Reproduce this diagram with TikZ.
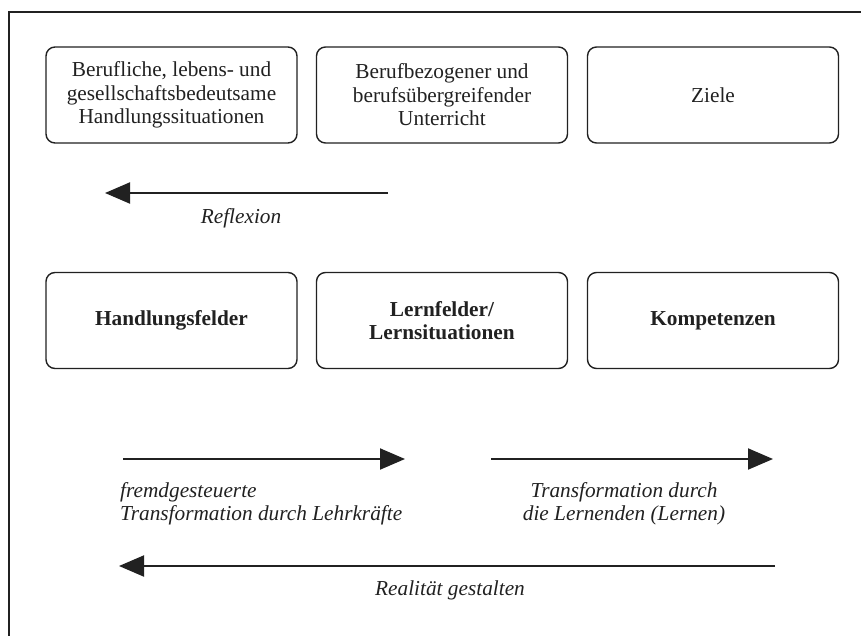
\documentclass[tikz,border=0pt]{standalone}
\usepackage{fontspec}
\setmainfont{Liberation Serif}
\usetikzlibrary{arrows.meta}
\definecolor{ink}{gray}{0.13}
\begin{document}
\begin{tikzpicture}[x=1pt,y=-1pt,
  every node/.style={text=ink, font=\fontsize{21.3}{23.5}\selectfont},
  box/.style={draw=ink, line width=1.4pt, rounded corners=9pt, minimum width=251pt,
    minimum height=96pt, inner sep=0pt, align=center},
  lbl/.style={inner sep=0pt, font=\fontsize{21.3}{23.5}\selectfont\itshape},
  arr/.style={draw=ink, line width=2pt, -{Triangle[length=25pt,width=21pt]}}]
\useasboundingbox (0,0) rectangle (861,635);
\draw[ink, line width=2pt] (9,640) -- (9,12) -- (870,12);
% top row
\node[box] (b1) at (171.5,95) {Berufliche, lebens- und\\gesellschaftsbedeutsame\\Handlungssituationen};
\node[box] (b2) at (442,95) {Berufbezogener und\\berufsübergreifender\\Unterricht};
\node[box] (b3) at (713,95) {Ziele};
% second row
\node[box, font=\fontsize{21.3}{23.5}\selectfont\bfseries] (c1) at (171.5,320.5) {Handlungsfelder};
\node[box, font=\fontsize{21.3}{23.5}\selectfont\bfseries] (c2) at (442,320.5) {Lernfelder/\\Lernsituationen};
\node[box, font=\fontsize{21.3}{23.5}\selectfont\bfseries] (c3) at (713,320.5) {Kompetenzen};
% arrows
\coordinate (ra) at (388,193);
\coordinate (rb) at (105,193);
\draw[arr] (ra) -- (rb);
\node[lbl] (rl) at (241,218) {Reflexion};
\coordinate (fa) at (123,459);
\coordinate (fb) at (405,459);
\draw[arr] (fa) -- (fb);
\node[lbl, anchor=west, align=left] (fl) at (120,504) {fremdgesteuerte\\Transformation durch Lehrkräfte};
\coordinate (ta) at (491,459);
\coordinate (tb) at (773,459);
\draw[arr] (ta) -- (tb);
\node[lbl, align=center] (tl) at (624,504) {Transformation durch\\die Lernenden (Lernen)};
\coordinate (ga) at (775,566);
\coordinate (gb) at (119,566);
\draw[arr] (ga) -- (gb);
\node[lbl] (gl) at (450,590) {Realität gestalten};
\end{tikzpicture}
\end{document}
